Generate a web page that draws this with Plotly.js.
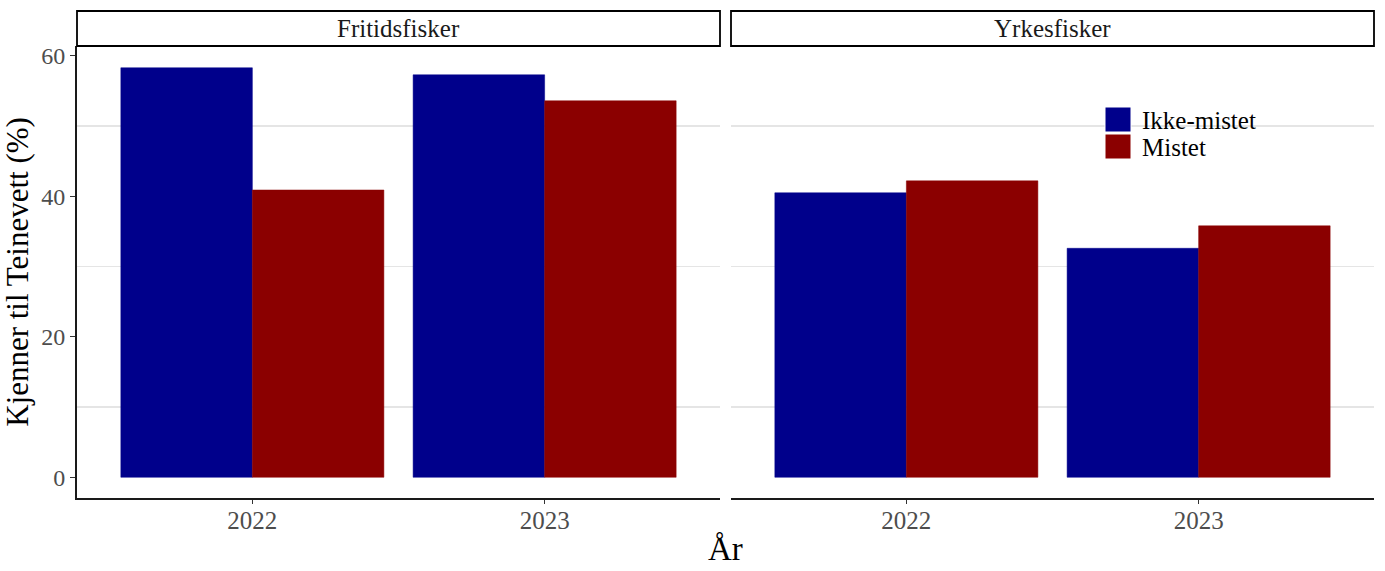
<!DOCTYPE html>
<html>
<head>
<meta charset="utf-8">
<script src="https://cdn.plot.ly/plotly-3.0.1.min.js"></script>
<style>
  html, body {margin: 0; padding: 0; background: #fff;}
  #chart {width: 1385px; height: 571px;}
</style>
</head>
<body>
<div id="chart"></div>
<script>
/////Data/////
const years = ['2022', '2023'];
const panels = ['Fritidsfisker', 'Yrkesfisker'];
const groups = ['Ikke-mistet', 'Mistet'];
const colors = ['#00008B', '#8B0000'];
// values per panel, per group (Ikke-mistet, Mistet), per year
const fritidIkke = [58.3, 57.3];
const fritidMistet = [40.9, 53.6];
const yrkesIkke = [40.5, 32.6];
const yrkesMistet = [42.2, 35.8];

const FONT = '"Liberation Serif", "Times New Roman", serif';

// pixel -> paper helpers (plot area 77..1374 x 46..498)
const px = (v) => (v - 77) / 1297;
const py = (v) => (498 - v) / 452;

/////Traces/////
let traces = [];
const panelData = [[fritidIkke, fritidMistet], [yrkesIkke, yrkesMistet]];
panelData.forEach((series, p) => {
  series.forEach((vals, g) => {
    traces.push({
      type: 'bar',
      x: years,
      y: vals,
      name: groups[g],
      showlegend: false,
      xaxis: p == 0 ? 'x' : 'x2',
      yaxis: 'y',
      marker: {color: colors[g], line: {color: colors[g], width: 0.5}},
      hoverinfo: 'x+y+name'
    });
  });
});

/////Layout/////
const stripH = 35 / 452;
const xAxisBase = {
  type: 'category',
  range: [-0.6, 1.6],
  showgrid: false,
  zeroline: false,
  showline: true,
  linecolor: '#1a1a1a',
  linewidth: 2,
  ticks: 'outside',
  ticklen: 4,
  tickcolor: '#333',
  ticklabelstandoff: -5,
  tickfont: {family: FONT, size: 25, color: '#4d4d4d'},
  fixedrange: true
};
let layout = {
  width: 1385,
  height: 571,
  margin: {l: 77, r: 11, t: 46, b: 73},
  paper_bgcolor: '#fff',
  plot_bgcolor: 'rgba(0,0,0,0)',
  barmode: 'group',
  bargap: 0.1,
  bargroupgap: 0,
  showlegend: false,
  font: {family: FONT, color: '#000'},
  xaxis: Object.assign({}, xAxisBase, {domain: [0, px(720)], anchor: 'y'}),
  xaxis2: Object.assign({}, xAxisBase, {domain: [px(731), 1], anchor: 'y'}),
  yaxis: {
    range: [-2.95, 61.4],
    tickvals: [0, 20, 40, 60],
    showgrid: false,
    zeroline: false,
    showline: true,
    linecolor: '#1a1a1a',
    linewidth: 2,
    ticks: 'outside',
    ticklen: 5,
    tickcolor: '#333',
    tickfont: {family: FONT, size: 24, color: '#4d4d4d'},
    minor: {tickvals: [10, 30, 50], showgrid: true, gridcolor: '#e5e5e5', gridwidth: 1.2, ticks: ''},
    title: {text: 'Kjenner til Teinevett (%)', font: {family: FONT, size: 31, color: '#000'}, standoff: 12},
    fixedrange: true
  },
  shapes: [],
  annotations: [
    {
      text: 'År', xref: 'paper', yref: 'paper', x: 0.5, y: 0,
      yshift: -31, xanchor: 'center', yanchor: 'top', showarrow: false,
      font: {family: FONT, size: 33, color: '#000'}
    }
  ]
};

// facet strips
const stripDomains = [layout.xaxis.domain, layout.xaxis2.domain];
panels.forEach((name, i) => {
  let d = stripDomains[i];
  layout.shapes.push({
    type: 'rect', xref: 'paper', yref: 'paper',
    x0: d[0], x1: d[1], y0: 1, y1: 1 + stripH,
    fillcolor: '#fff', line: {color: '#000', width: 1.8}
  });
  layout.annotations.push({
    text: name, xref: 'paper', yref: 'paper',
    x: (d[0] + d[1]) / 2, y: 1 + stripH / 2,
    xanchor: 'center', yanchor: 'middle', showarrow: false,
    font: {family: FONT, size: 25, color: '#1a1a1a'}
  });
});

// legend drawn by hand, inside the right panel (ggplot-style keys)
groups.forEach((name, g) => {
  let top = 107 + g * 27;
  layout.shapes.push({
    type: 'rect', xref: 'paper', yref: 'paper',
    x0: px(1105), x1: px(1131), y0: py(top + 25), y1: py(top),
    fillcolor: colors[g], line: {color: '#fff', width: 1}
  });
  layout.annotations.push({
    text: name, xref: 'paper', yref: 'paper',
    x: px(1140), y: py(top + 13), xanchor: 'left', yanchor: 'middle',
    showarrow: false, font: {family: FONT, size: 25, color: '#000'}
  });
});

Plotly.newPlot('chart', traces, layout, {displayModeBar: false, staticPlot: true});
</script>
</body>
</html>
